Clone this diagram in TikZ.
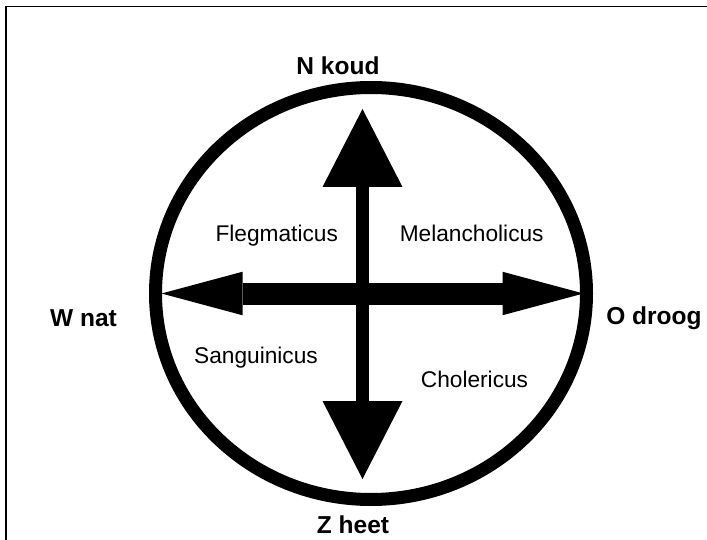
\documentclass[tikz,border=0pt]{standalone}
\usepackage{fontspec}
\setmainfont{Liberation Sans}
\usetikzlibrary{arrows.meta}
\tikzset{
  x=1pt, y=-1pt,
  ring/.style={line width=13pt},
  frame/.style={line width=1.8pt},
  pole/.style={font=\fontsize{24.5}{28}\selectfont\bfseries, anchor=base, inner sep=0pt},
  temper/.style={font=\fontsize{22.7}{26}\selectfont, anchor=base, inner sep=0pt},
  vaxis/.style={line width=13.5pt, {Triangle[length=78pt, width=80pt, line width=0pt]}-{Triangle[length=78pt, width=80pt, line width=0pt]}},
  haxis/.style={line width=22pt, {Triangle[length=81pt, width=43.5pt, line width=0pt]}-{Triangle[length=81pt, width=43.5pt, line width=0pt]}}
}
\begin{document}
\begin{tikzpicture}
\useasboundingbox (0,0) rectangle (707,540);
\fill[white] (0,0) rectangle (707,540);
\begin{scope}
\clip (0,0) rectangle (707,540);
\draw[frame] (6,580) -- (6,6.5) -- (740,6.5);
\end{scope}
% ring
\draw[ring] (371,293.5) ellipse [x radius=215.5pt, y radius=206pt];
% arrow end points
\coordinate (ntip) at (362.5,109);
\coordinate (stip) at (362.5,479);
\coordinate (wtip) at (161.5,293.5);
\coordinate (etip) at (583.5,293.5);
\draw[vaxis] (ntip) -- (stip);
\draw[haxis] (wtip) -- (etip);
% pole labels
\node[pole] (N) at (338,75) {N koud};
\node[pole] (Z) at (353,533) {Z heet};
\node[pole] (W) at (83.5,326.7) {W nat};
\node[pole] (O) at (654,324) {O droog};
% temperaments
\node[temper] (fleg) at (276.7,241.7) {Flegmaticus};
\node[temper] (mel) at (471.7,241.7) {Melancholicus};
\node[temper] (sang) at (256,363.5) {Sanguinicus};
\node[temper] (chol) at (474.5,387) {Cholericus};
\end{tikzpicture}
\end{document}
